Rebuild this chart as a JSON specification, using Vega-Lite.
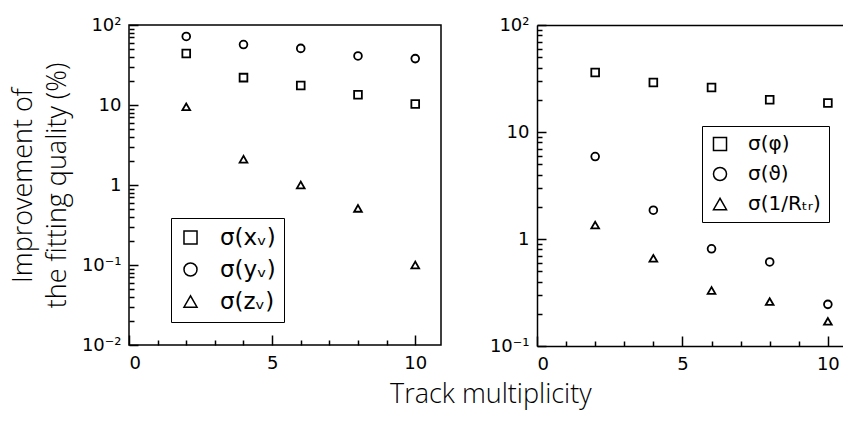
{
  "$schema": "https://vega.github.io/schema/vega-lite/v6.json",
  "padding": {"left": 8, "top": 15, "right": 0, "bottom": 5},
  "background": "white",
  "config": {
    "font": "DejaVu Sans",
    "axis": {"grid": false, "domainColor": "black", "domainWidth": 1.5, "tickColor": "black", "tickWidth": 1.5, "labelColor": "black", "titleColor": "black", "labelFontSize": 18, "labelFont": "DejaVu Sans", "titleFont": "Open Sans"},
    "legend": {"labelFont": "DejaVu Sans"}
  },
  "title": {"text": "Track multiplicity", "orient": "bottom", "anchor": "middle", "font": "Open Sans", "fontSize": 27, "fontWeight": 300, "color": "black", "offset": 9, "dx": 65},
  "datasets": {
    "left": [
      {"n": 2, "v": 44, "s": "σ(xᵥ)"},
      {"n": 4, "v": 22, "s": "σ(xᵥ)"},
      {"n": 6, "v": 17.5, "s": "σ(xᵥ)"},
      {"n": 8, "v": 13.4, "s": "σ(xᵥ)"},
      {"n": 10, "v": 10.3, "s": "σ(xᵥ)"},
      {"n": 2, "v": 72, "s": "σ(yᵥ)"},
      {"n": 4, "v": 57, "s": "σ(yᵥ)"},
      {"n": 6, "v": 51, "s": "σ(yᵥ)"},
      {"n": 8, "v": 41, "s": "σ(yᵥ)"},
      {"n": 10, "v": 38, "s": "σ(yᵥ)"},
      {"n": 2, "v": 9.5, "s": "σ(zᵥ)"},
      {"n": 4, "v": 2.1, "s": "σ(zᵥ)"},
      {"n": 6, "v": 1.0, "s": "σ(zᵥ)"},
      {"n": 8, "v": 0.51, "s": "σ(zᵥ)"},
      {"n": 10, "v": 0.1, "s": "σ(zᵥ)"}
    ],
    "right": [
      {"n": 2, "v": 36, "s": "σ(φ)"},
      {"n": 4, "v": 29, "s": "σ(φ)"},
      {"n": 6, "v": 26, "s": "σ(φ)"},
      {"n": 8, "v": 20, "s": "σ(φ)"},
      {"n": 10, "v": 18.7, "s": "σ(φ)"},
      {"n": 2, "v": 5.9, "s": "σ(ϑ)"},
      {"n": 4, "v": 1.86, "s": "σ(ϑ)"},
      {"n": 6, "v": 0.81, "s": "σ(ϑ)"},
      {"n": 8, "v": 0.61, "s": "σ(ϑ)"},
      {"n": 10, "v": 0.245, "s": "σ(ϑ)"},
      {"n": 2, "v": 1.35, "s": "σ(1/Rₜᵣ)"},
      {"n": 4, "v": 0.66, "s": "σ(1/Rₜᵣ)"},
      {"n": 6, "v": 0.33, "s": "σ(1/Rₜᵣ)"},
      {"n": 8, "v": 0.26, "s": "σ(1/Rₜᵣ)"},
      {"n": 10, "v": 0.17, "s": "σ(1/Rₜᵣ)"}
    ]
  },
  "spacing": 47,
  "resolve": {"scale": {"x": "independent", "y": "independent", "shape": "independent"}, "legend": {"shape": "independent"}},
  "hconcat": [
    {
      "width": 312,
      "height": 320,
      "view": {"stroke": "black", "strokeWidth": 1.5},
      "data": {"name": "left"},
      "resolve": {"axis": {"x": "independent", "y": "independent"}},
      "layer": [
        {
          "mark": {"type": "point", "filled": false, "size": 60, "strokeWidth": 1.8, "color": "black", "opacity": 1},
          "encoding": {
            "x": {"field": "n", "type": "quantitative", "scale": {"domain": [0, 10.9], "nice": false, "zero": false},
              "axis": {"orient": "bottom", "title": null, "values": [0, 5, 10], "tickSize": -10, "labelPadding": 19, "domain": false}},
            "y": {"field": "v", "type": "quantitative", "scale": {"type": "log", "domain": [0.01, 100], "nice": false},
              "axis": {"orient": "left", "title": ["Improvement of", "the fitting quality (%)"], "titleFont": "Open Sans", "titleFontSize": 27, "titleFontWeight": 300, "titleLineHeight": 34, "titlePadding": 10,
                "values": [0.01, 0.1, 1, 10, 100],
                "labelExpr": "datum.value == 100 ? '10²' : datum.value == 10 ? '10' : datum.value == 1 ? '1' : datum.value == 0.1 ? '10⁻¹' : '10⁻²'",
                "tickSize": -9, "labelPadding": 17, "domain": false}},
            "shape": {"field": "s", "type": "nominal", "scale": {"domain": ["σ(xᵥ)", "σ(yᵥ)", "σ(zᵥ)"], "range": ["square", "circle", "triangle-up"]},
              "legend": {"title": null, "orient": "none", "legendX": 42, "legendY": 193, "strokeColor": "black", "padding": 8, "labelFontSize": 23, "symbolSize": 170, "symbolStrokeWidth": 1.5, "symbolStrokeColor": "black", "symbolFillColor": "transparent", "rowPadding": 8, "labelOffset": 18, "labelColor": "black"}}
          }
        },
        {
          "mark": {"type": "point", "opacity": 0},
          "encoding": {
            "x": {"field": "n", "type": "quantitative", "scale": {"domain": [0, 10.9], "nice": false, "zero": false},
              "axis": {"orient": "bottom", "title": null, "values": [1, 2, 3, 4, 6, 7, 8, 9], "tickSize": -5, "labels": false, "domain": false}},
            "y": {"field": "v", "type": "quantitative", "scale": {"type": "log", "domain": [0.01, 100], "nice": false},
              "axis": {"orient": "left", "title": null, "values": [0.02,0.03,0.04,0.05,0.06,0.07,0.08,0.09,0.2,0.3,0.4,0.5,0.6,0.7,0.8,0.9,2,3,4,5,6,7,8,9,20,30,40,50,60,70,80,90], "tickSize": -5, "labels": false, "domain": false}}
          }
        }
      ]
    },
    {
      "width": 306,
      "height": 321,
      "view": {"stroke": null},
      "data": {"name": "right"},
      "resolve": {"axis": {"x": "independent", "y": "independent"}},
      "layer": [
        {
          "mark": {"type": "point", "filled": false, "size": 60, "strokeWidth": 1.8, "color": "black", "opacity": 1},
          "encoding": {
            "x": {"field": "n", "type": "quantitative", "scale": {"domain": [0, 10.52], "nice": false, "zero": false},
              "axis": {"orient": "bottom", "title": null, "values": [0, 5, 10], "tickSize": -10, "labelPadding": 19, "domain": false}},
            "y": {"field": "v", "type": "quantitative", "scale": {"type": "log", "domain": [0.1, 100], "nice": false},
              "axis": {"orient": "left", "title": null, "values": [0.1, 1, 10, 100],
                "labelExpr": "datum.value == 100 ? '10²' : datum.value == 10 ? '10' : datum.value == 1 ? '1' : '10⁻¹'",
                "tickSize": -9, "labelPadding": 17, "domain": false}},
            "shape": {"field": "s", "type": "nominal", "scale": {"domain": ["σ(φ)", "σ(ϑ)", "σ(1/Rₜᵣ)"], "range": ["square", "circle", "triangle-up"]},
              "legend": {"title": null, "orient": "none", "legendX": 165, "legendY": 101, "strokeColor": "black", "padding": 8, "labelFontSize": 20, "symbolSize": 170, "symbolStrokeWidth": 1.5, "symbolStrokeColor": "black", "symbolFillColor": "transparent", "rowPadding": 10, "labelOffset": 18, "labelColor": "black"}}
          }
        },
        {
          "mark": {"type": "point", "opacity": 0},
          "encoding": {
            "x": {"field": "n", "type": "quantitative", "scale": {"domain": [0, 10.52], "nice": false, "zero": false},
              "axis": {"orient": "bottom", "title": null, "values": [1, 2, 3, 4, 6, 7, 8, 9], "tickSize": -5, "labels": false, "domain": false}},
            "y": {"field": "v", "type": "quantitative", "scale": {"type": "log", "domain": [0.1, 100], "nice": false},
              "axis": {"orient": "left", "title": null, "values": [0.2,0.3,0.4,0.5,0.6,0.7,0.8,0.9,2,3,4,5,6,7,8,9,20,30,40,50,60,70,80,90], "tickSize": -5, "labels": false, "domain": false}}
          }
        },
        {
          "mark": {"type": "point", "opacity": 0},
          "encoding": {
            "x": {"field": "n", "type": "quantitative", "scale": {"domain": [0, 10.52], "nice": false, "zero": false},
              "axis": {"orient": "top", "title": null, "labels": false, "ticks": false, "domain": true}},
            "y": {"field": "v", "type": "quantitative", "scale": {"type": "log", "domain": [0.1, 100], "nice": false},
              "axis": {"orient": "left", "title": null, "labels": false, "ticks": false, "domain": true}}
          }
        },
        {
          "mark": {"type": "point", "opacity": 0},
          "encoding": {
            "x": {"field": "n", "type": "quantitative", "scale": {"domain": [0, 10.52], "nice": false, "zero": false},
              "axis": {"orient": "bottom", "title": null, "labels": false, "ticks": false, "domain": true}},
            "y": {"field": "v", "type": "quantitative", "scale": {"type": "log", "domain": [0.1, 100], "nice": false}, "axis": null}
          }
        }
      ]
    }
  ]
}
